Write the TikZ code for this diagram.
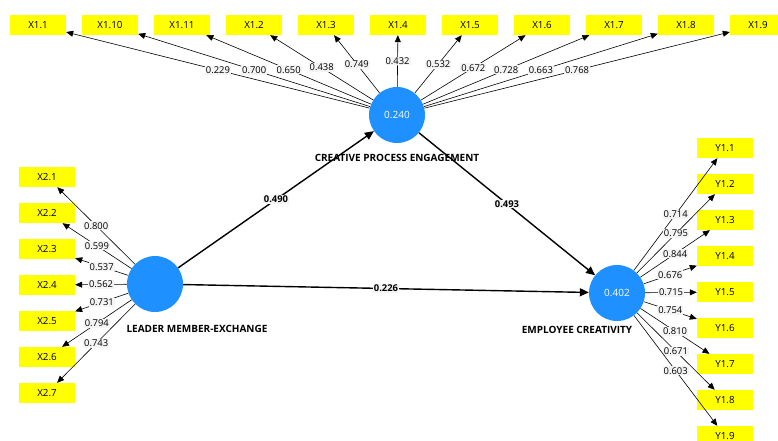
\documentclass[tikz,border=0pt]{standalone}
\usepackage{fontspec}
\setmainfont{Open Sans}
\usetikzlibrary{arrows.meta}
\definecolor{lvblue}{RGB}{30,144,255}
\definecolor{indyellow}{RGB}{255,255,0}
\definecolor{lblgray}{RGB}{244,244,244}
\newcommand{\rowgap}[0] {36}
\newcommand{\colgap}[0] {72}

\tikzset{
  latent/.style={shape=circle,fill=lvblue,minimum size=56pt,inner sep=0pt,text=white,font=\fontsize{10}{11}\selectfont},
  indic/.style={shape=rectangle,fill=indyellow,minimum width=56pt,minimum height=20pt,inner sep=0pt,font=\fontsize{9.8}{11}\selectfont},
  cname/.style={font=\bfseries\fontsize{10}{11}\selectfont},
  loading/.style={-{Triangle[length=7pt,width=6pt]},line width=0.6pt},
  struct/.style={-{Triangle[length=9pt,width=8pt]},line width=1.4pt},
  loadlbl/.style={midway,fill=lblgray,inner sep=1pt,font=\fontsize{9.4}{10}\selectfont},
  pathlbl/.style={midway,fill=lblgray,inner sep=1pt,font=\bfseries\fontsize{9.4}{10}\selectfont}
}

\begin{document}
\begin{tikzpicture}[x=1pt,y=-1pt]
        \useasboundingbox (0,0) rectangle (778,440);

        %latent variables
        \node[latent] (cpe) at (397,115) {0.240};
        \node[latent] (lmx) at (155,284) {};
        \node[latent] (ec) at (617,293) {0.402};
        \node[cname] (cpename) at (397,158) {CREATIVE PROCESS ENGAGEMENT};
        \node[cname] (lmxname) at (197,329) {LEADER MEMBER-EXCHANGE};
        \node[cname] (ecname) at (577,330) {EMPLOYEE CREATIVITY};

        %indicators of creative process engagement
        \node[indic] (x11) at (38,25) {X1.1};
        \node[indic] (x110) at (38+\colgap,25) {X1.10};
        \node[indic] (x111) at (38+\colgap*2,25) {X1.11};
        \node[indic] (x12) at (38+\colgap*3,25) {X1.2};
        \node[indic] (x13) at (38+\colgap*4,25) {X1.3};
        \node[indic] (x14) at (38+\colgap*5,25) {X1.4};
        \node[indic] (x15) at (38+\colgap*6,25) {X1.5};
        \node[indic] (x16) at (38+\colgap*7,25) {X1.6};
        \node[indic] (x17) at (38+\colgap*8,25) {X1.7};
        \node[indic] (x18) at (38+\colgap*9,25) {X1.8};
        \node[indic] (x19) at (38+\colgap*10,25) {X1.9};

        %indicators of leader member-exchange
        \node[indic] (x21) at (47,177) {X2.1};
        \node[indic] (x22) at (47,177+\rowgap) {X2.2};
        \node[indic] (x23) at (47,177+\rowgap*2) {X2.3};
        \node[indic] (x24) at (47,177+\rowgap*3) {X2.4};
        \node[indic] (x25) at (47,177+\rowgap*4) {X2.5};
        \node[indic] (x26) at (47,177+\rowgap*5) {X2.6};
        \node[indic] (x27) at (47,177+\rowgap*6) {X2.7};

        %indicators of employee creativity
        \node[indic] (y11) at (725,148) {Y1.1};
        \node[indic] (y12) at (725,148+\rowgap) {Y1.2};
        \node[indic] (y13) at (725,148+\rowgap*2) {Y1.3};
        \node[indic] (y14) at (725,148+\rowgap*3) {Y1.4};
        \node[indic] (y15) at (725,148+\rowgap*4) {Y1.5};
        \node[indic] (y16) at (725,148+\rowgap*5) {Y1.6};
        \node[indic] (y17) at (725,148+\rowgap*6) {Y1.7};
        \node[indic] (y18) at (725,148+\rowgap*7) {Y1.8};
        \node[indic] (y19) at (725,148+\rowgap*8) {Y1.9};

        %outer loadings
        \path[loading] (cpe) edge node[loadlbl]{0.229} (x11);
        \path[loading] (cpe) edge node[loadlbl]{0.700} (x110);
        \path[loading] (cpe) edge node[loadlbl]{0.650} (x111);
        \path[loading] (cpe) edge node[loadlbl]{0.438} (x12);
        \path[loading] (cpe) edge node[loadlbl]{0.749} (x13);
        \path[loading] (cpe) edge node[loadlbl]{0.432} (x14);
        \path[loading] (cpe) edge node[loadlbl]{0.532} (x15);
        \path[loading] (cpe) edge node[loadlbl]{0.672} (x16);
        \path[loading] (cpe) edge node[loadlbl]{0.728} (x17);
        \path[loading] (cpe) edge node[loadlbl]{0.663} (x18);
        \path[loading] (cpe) edge node[loadlbl]{0.768} (x19);

        \path[loading] (lmx) edge node[loadlbl]{0.800} (x21);
        \path[loading] (lmx) edge node[loadlbl]{0.599} (x22);
        \path[loading] (lmx) edge node[loadlbl]{0.537} (x23);
        \path[loading] (lmx) edge node[loadlbl]{0.562} (x24);
        \path[loading] (lmx) edge node[loadlbl]{0.731} (x25);
        \path[loading] (lmx) edge node[loadlbl]{0.794} (x26);
        \path[loading] (lmx) edge node[loadlbl]{0.743} (x27);

        \path[loading] (ec) edge node[loadlbl]{0.714} (y11);
        \path[loading] (ec) edge node[loadlbl]{0.795} (y12);
        \path[loading] (ec) edge node[loadlbl]{0.844} (y13);
        \path[loading] (ec) edge node[loadlbl]{0.676} (y14);
        \path[loading] (ec) edge node[loadlbl]{0.715} (y15);
        \path[loading] (ec) edge node[loadlbl]{0.754} (y16);
        \path[loading] (ec) edge node[loadlbl]{0.810} (y17);
        \path[loading] (ec) edge node[loadlbl]{0.671} (y18);
        \path[loading] (ec) edge node[loadlbl]{0.603} (y19);

        %path coefficients
        \path[struct] (lmx) edge node[pathlbl]{0.490} (cpe);
        \path[struct] (cpe) edge node[pathlbl]{0.493} (ec);
        \path[struct] (lmx) edge node[pathlbl]{0.226} (ec);
\end{tikzpicture}
\end{document}
